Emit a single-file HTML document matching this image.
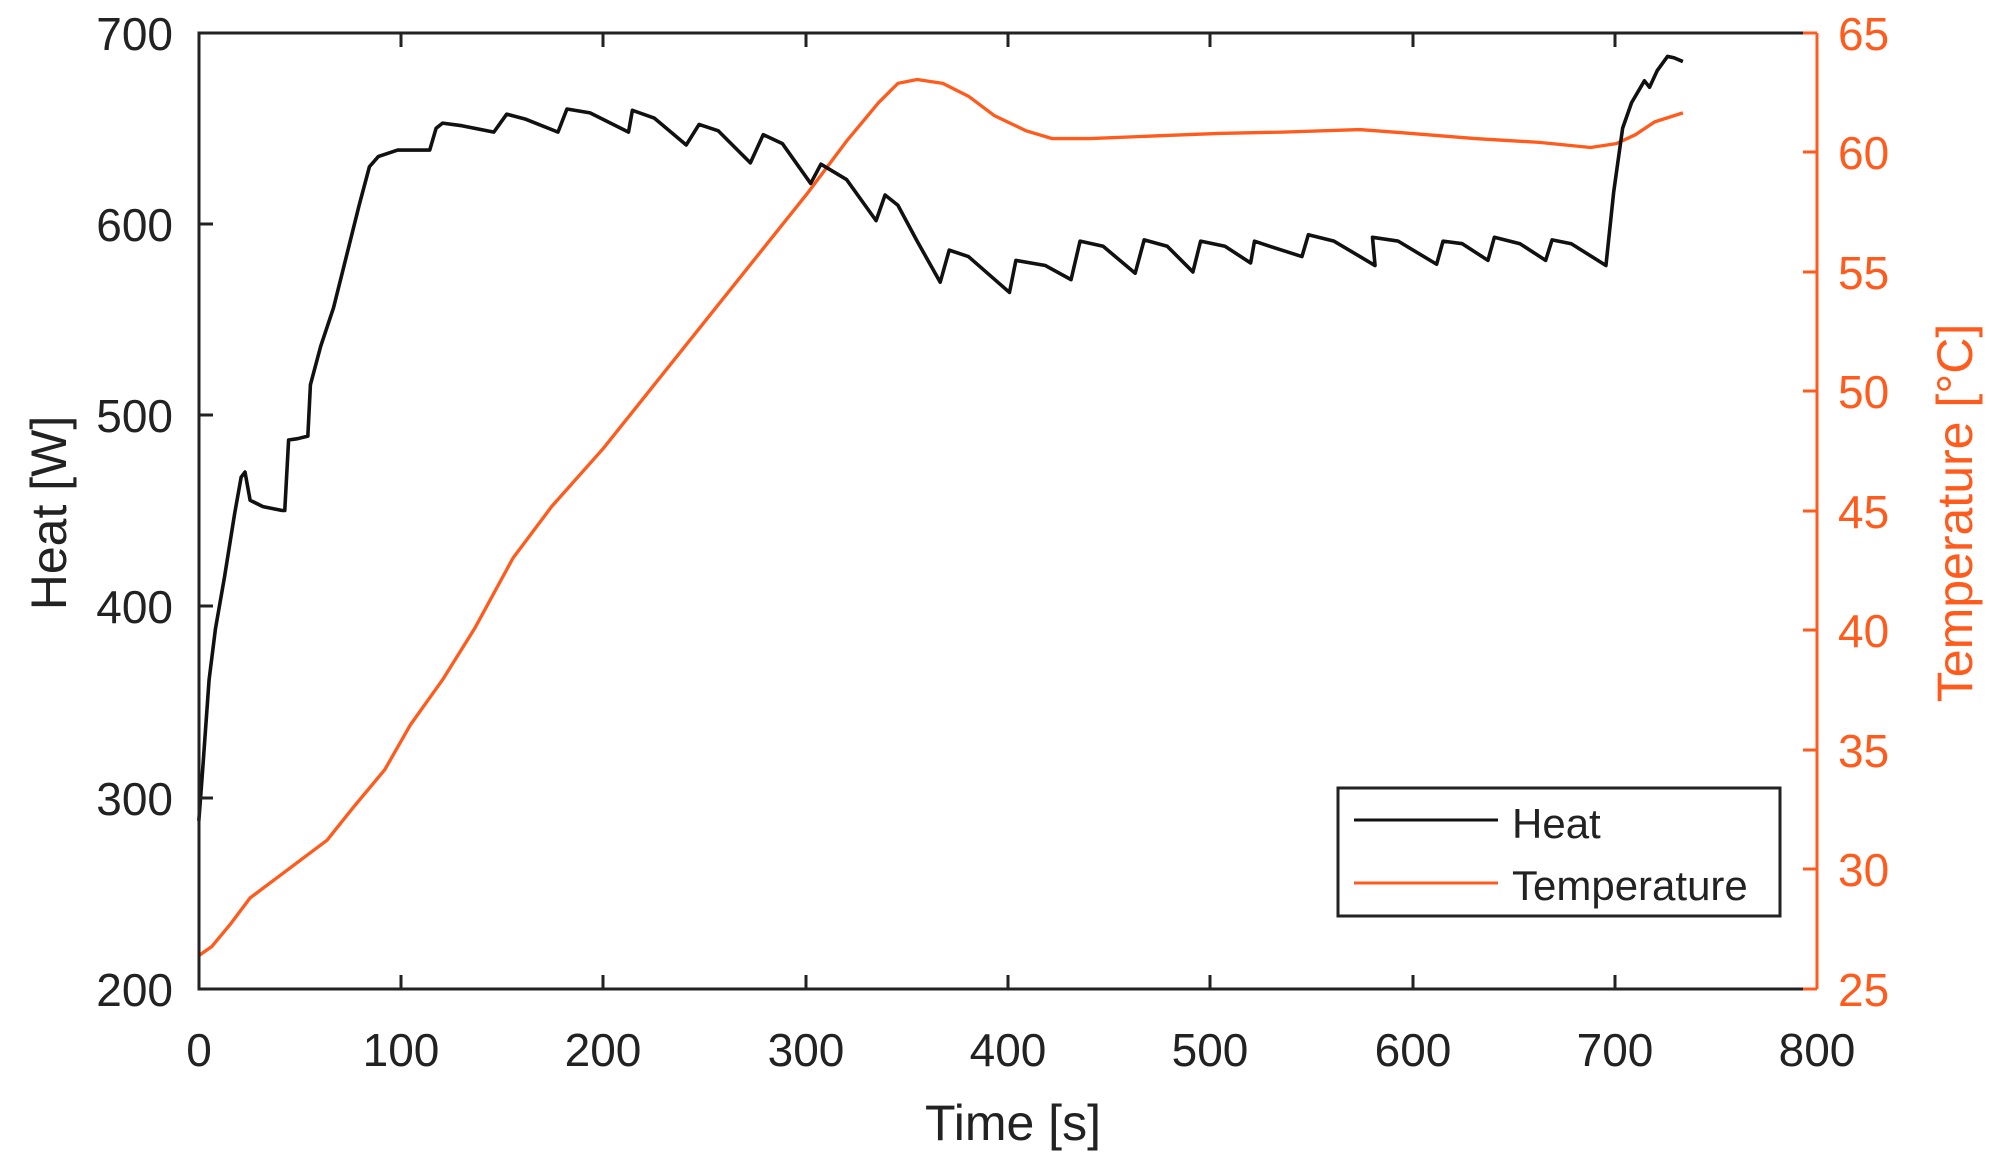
<!DOCTYPE html>
<html><head><meta charset="utf-8"><style>html,body{margin:0;padding:0;background:#fff}svg{display:block}</style></head>
<body>
<svg width="2001" height="1157" viewBox="0 0 2001 1157" xmlns="http://www.w3.org/2000/svg" font-family="Liberation Sans, Arial, sans-serif">
<rect width="2001" height="1157" fill="#fff"/>
<g transform="scale(1.2827)" fill="none" stroke-linejoin="round">
<polyline stroke="#ff5b1c" stroke-width="2.6" points="155,745 165,738 180,720 195,700 215,685 235,670 255,655 275,630 300,600 320,565 345,530 370,490 400,435 430,395 470,350 510,300 550,250 590,200 630,150 660,110 685,80 700,65 715,62 735,65 755,75 775,90 800,102 820,108 850,108 900,106 950,104 1000,103 1060,101 1100,104 1150,108 1200,111 1240,115 1260,112 1275,105 1290,95 1312,88"/>
<polyline stroke="#111" stroke-width="2.8" points="155,640 158,600 163,530 168,490 175,450 183,400 188,372 191,368 195,390 205,395 220,398 222,398 225,343 232,342 240,340 242,300 250,270 260,240 270,200 280,160 288,130 295,122 310,117 335,117 340,100 345,96 360,98 385,103 395,89 410,93 435,103 442,85 460,88 490,103 493,86 510,92 535,113 545,97 560,102 585,127 595,105 610,112 632,143 640,128 660,140 683,172 690,152 700,160 715,188 733,220 740,195 755,200 787,228 792,203 815,207 835,218 842,188 860,192 885,213 892,187 910,192 930,212 936,188 955,192 975,205 978,188 990,192 1015,200 1020,183 1040,188 1072,207 1070,185 1090,188 1120,206 1125,188 1140,190 1160,203 1165,185 1185,190 1205,203 1210,187 1225,190 1252,207 1258,150 1265,100 1272,80 1282,63 1286,68 1292,55 1300,44 1305,45 1312,48"/>
</g>
<g stroke="#222" stroke-width="3" fill="none">
<polyline points="1817,33 199,33 199,989 1817,989"/>
<path d="M199,224H213M199,415H213M199,606H213M199,798H213"/>
<path d="M401,989V975M603,989V975M806,989V975M1008,989V975M1210,989V975M1413,989V975M1615,989V975"/>
<path d="M401,33V47M603,33V47M806,33V47M1008,33V47M1210,33V47M1413,33V47M1615,33V47"/>
</g>
<g stroke="#ff5b1c" stroke-width="3" fill="none">
<path d="M1817,33V989"/>
<path d="M1817,33H1803M1817,152H1803M1817,272H1803M1817,391H1803M1817,511H1803M1817,630H1803M1817,750H1803M1817,869H1803M1817,989H1803"/>
</g>
<g font-size="46" fill="#222" text-anchor="end">
<text x="173" y="50">700</text><text x="173" y="241">600</text><text x="173" y="432">500</text><text x="173" y="623">400</text><text x="173" y="815">300</text><text x="173" y="1006">200</text>
</g>
<g font-size="46" fill="#222" text-anchor="middle">
<text x="199" y="1066">0</text><text x="401" y="1066">100</text><text x="603" y="1066">200</text><text x="806" y="1066">300</text><text x="1008" y="1066">400</text><text x="1210" y="1066">500</text><text x="1413" y="1066">600</text><text x="1615" y="1066">700</text><text x="1817" y="1066">800</text>
</g>
<g font-size="46" fill="#ff5b1c">
<text x="1838" y="50">65</text><text x="1838" y="169">60</text><text x="1838" y="289">55</text><text x="1838" y="408">50</text><text x="1838" y="528">45</text><text x="1838" y="647">40</text><text x="1838" y="767">35</text><text x="1838" y="886">30</text><text x="1838" y="1006">25</text>
</g>
<text x="1013" y="1140" font-size="50" fill="#222" text-anchor="middle">Time [s]</text>
<text transform="translate(66,513) rotate(-90)" font-size="50" fill="#222" text-anchor="middle">Heat [W]</text>
<text transform="translate(1972,513) rotate(-90)" font-size="50" fill="#ff5b1c" text-anchor="middle">Temperature [°C]</text>
<rect x="1338" y="788" width="442" height="128" fill="#fff" stroke="#222" stroke-width="3"/>
<line x1="1354" y1="820" x2="1498" y2="820" stroke="#111" stroke-width="3"/>
<line x1="1354" y1="883" x2="1498" y2="883" stroke="#ff5b1c" stroke-width="3"/>
<text x="1512" y="838" font-size="42" fill="#222">Heat</text>
<text x="1512" y="900" font-size="42" fill="#222">Temperature</text>
</svg>
</body></html>
